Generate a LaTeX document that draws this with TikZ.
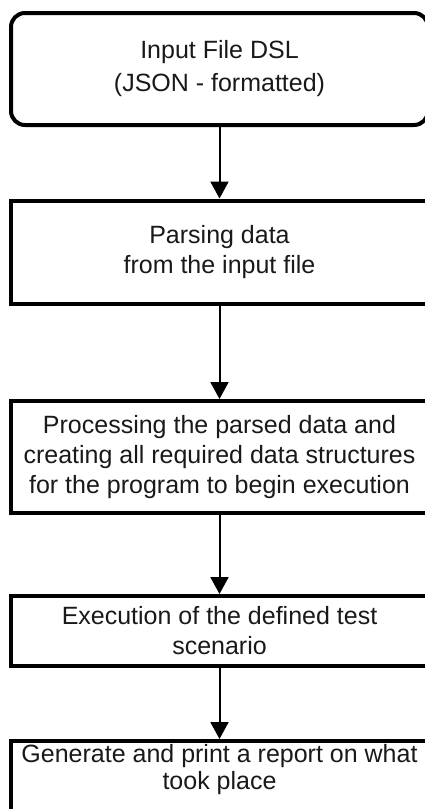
\documentclass[tikz,border=0pt]{standalone}
\usepackage{fontspec}
\setmainfont{Liberation Sans}
\usetikzlibrary{arrows.meta}
\begin{document}
\begin{tikzpicture}[x=1pt,y=-1pt,
  stepbox/.style={draw=black, line width=4pt, rectangle, outer sep=0pt,
    inner sep=0pt, minimum width=417pt, align=center,
    font=\fontsize{25}{30}\selectfont, text=black!90},
  flow/.style={draw=black, line width=2pt,
    -{Triangle[length=17pt,width=18pt]}, shorten >=2pt}]
\useasboundingbox (0,0) rectangle (424,809);

% process steps, top to bottom
\node[stepbox, rounded corners=14pt, minimum height=112pt,
  font=\fontsize{25}{33}\selectfont] (input) at (219.5,69)
  {Input File DSL\\(JSON - formatted)};
\node[stepbox, minimum height=103.5pt] (parse) at (219.5,252.25)
  {Parsing data\\from the input file};
\node[stepbox, minimum height=112pt] (process) at (219.5,457)
  {Processing the parsed data and\\creating all required data structures\\for the program to begin execution};
\node[stepbox, minimum height=70pt] (exec) at (219.5,631)
  {Execution of the defined test\\scenario};
% last step runs past the lower edge; its text sits near the top
\node[stepbox, anchor=north, text height=48pt, text depth=35pt,
  font=\fontsize{25}{27}\selectfont] (report) at (219.5,741)
  {Generate and print a report on what\\took place};

% connectors
\draw[flow] (input) -- (parse);
\draw[flow] (parse) -- (process);
\draw[flow] (process) -- (exec);
\draw[flow] (exec) -- (report);
\end{tikzpicture}
\end{document}
